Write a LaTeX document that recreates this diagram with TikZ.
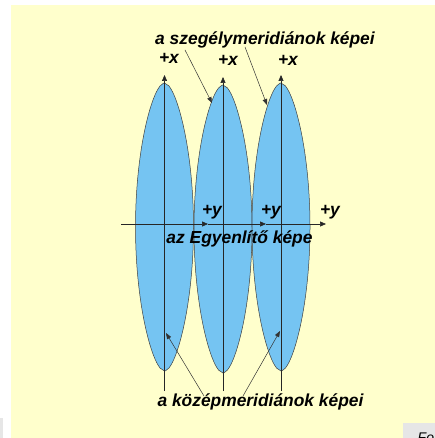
\documentclass[tikz,border=0pt]{standalone}
\usepackage{fontspec}
\setmainfont{Liberation Sans}
\usetikzlibrary{arrows.meta}
\definecolor{bgyellow}{RGB}{255,255,204}
\definecolor{lensblue}{RGB}{117,196,242}
\definecolor{boxgray}{RGB}{230,230,230}
\tikzset{
  lens/.style={fill=lensblue, draw=black!75, line width=0.5pt},
  axisline/.style={draw=black!85, line width=0.6pt, -{Triangle[length=6pt,width=5pt]}},
  pointer/.style={draw=black!80, line width=0.5pt, -{Triangle[length=6pt,width=4.5pt]}},
  lbl/.style={font=\fontsize{17.4}{20}\selectfont\bfseries\itshape, inner sep=0pt, anchor=base},
}
\begin{document}
\begin{tikzpicture}[x=1pt,y=-1pt]
\useasboundingbox (0,0) rectangle (435,438);
\fill[white] (0,0) rectangle (435,438);
\fill[bgyellow] (11,5) rectangle (435,438);
% gray boxes
\fill[boxgray] (0,418) rectangle (3,438);
\begin{scope}
\clip (0,0) rectangle (435,438);
\fill[boxgray] (402.5,423) rectangle (440,440);
\node[font=\fontsize{14}{16}\selectfont\itshape, anchor=base west, inner sep=0pt] (fo) at (417.5,442) {Fo};
\end{scope}
% lenses
\foreach \cx/\cy in {164.5/227, 223/229, 281/227}{
  \path[lens] plot[domain=-1:1, samples=101] ({\cx + 29*sqrt(abs(1-\x*\x))*(0.7+0.3*sqrt(abs(1-\x*\x)))}, {\cy + 144*\x})
     -- plot[domain=1:-1, samples=101] ({\cx - 29*sqrt(abs(1-\x*\x))*(0.7+0.3*sqrt(abs(1-\x*\x)))}, {\cy + 144*\x}) -- cycle;
}
% meridian axes
\coordinate (m1b) at (164.5,391); \coordinate (m1t) at (164.5,75);
\coordinate (m2b) at (223,391); \coordinate (m2t) at (223,77);
\coordinate (m3b) at (281,391); \coordinate (m3t) at (281,75);
\draw[axisline] (m1b) -- (m1t);
\draw[axisline] (m2b) -- (m2t);
\draw[axisline] (m3b) -- (m3t);
% equator axes
\coordinate (e0) at (121,224);
\coordinate (e1) at (208,224);
\coordinate (e2) at (266,224);
\coordinate (e3) at (326,224);
\draw[axisline] (e0) -- (e1);
\draw[axisline] (e1) -- (e2);
\draw[axisline] (e2) -- (e3);
% axis labels
\node[lbl] (x1) at (169,64) {+x};
\node[lbl] (x2) at (228,66) {+x};
\node[lbl] (x3) at (288,66) {+x};
\node[lbl] (y1) at (212,215) {+y};
\node[lbl] (y2) at (271,215) {+y};
\node[lbl] (y3) at (330,215) {+y};
% labels
\node[lbl] (ltop) at (265,45) {a szegélymeridiánok képei};
\node[lbl] (leq) at (239.5,243) {az Egyenlítő képe};
\node[lbl] (lbot) at (260.5,406.5) {a középmeridiánok képei};
% pointers
\coordinate (p1s) at (185,50); \coordinate (p1e) at (212,103);
\coordinate (p2s) at (245,47); \coordinate (p2e) at (267,105);
\coordinate (p3s) at (204,396); \coordinate (p3e) at (166,333);
\coordinate (p4s) at (243,396); \coordinate (p4e) at (280,331);
\draw[pointer] (p1s) -- (p1e);
\draw[pointer] (p2s) -- (p2e);
\draw[pointer] (p3s) -- (p3e);
\draw[pointer] (p4s) -- (p4e);
\end{tikzpicture}
\end{document}
